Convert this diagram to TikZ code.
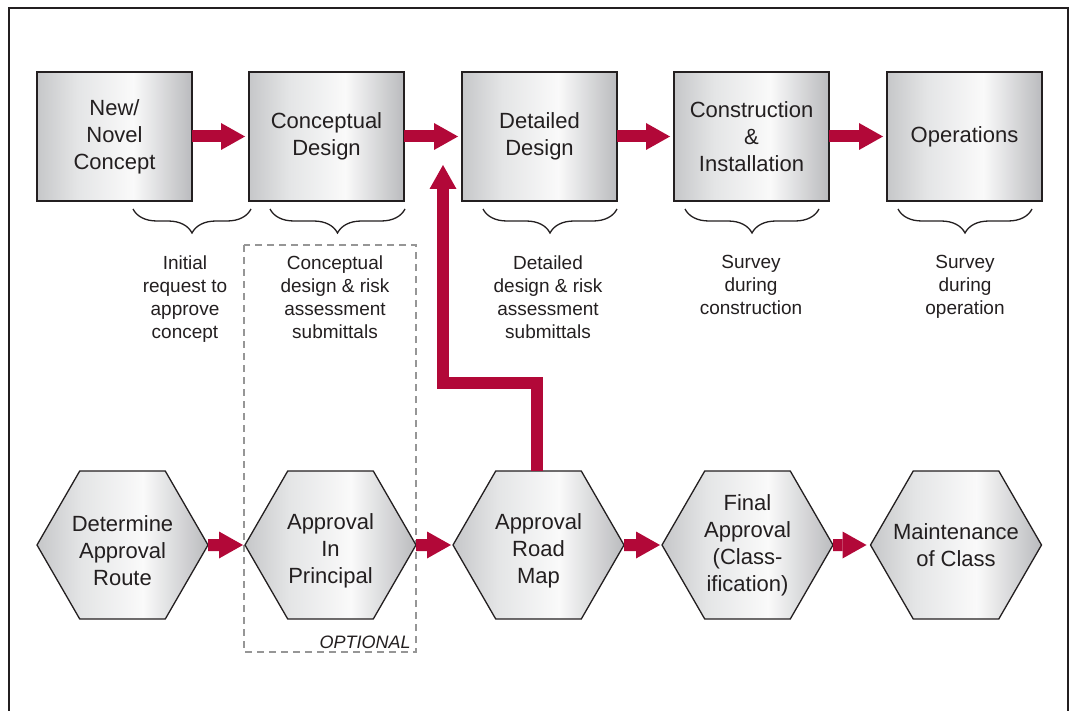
\documentclass[tikz,border=0pt]{standalone}
\usepackage{fontspec}
\setmainfont{Liberation Sans}
\usetikzlibrary{arrows.meta, shapes.geometric, decorations.pathreplacing}

\definecolor{crimson}{RGB}{178,8,56}
\definecolor{ink}{RGB}{35,31,32}
\definecolor{edgeL}{RGB}{198,199,201}
\definecolor{edgeR}{RGB}{186,187,190}
\definecolor{midL}{RGB}{228,229,230}
\definecolor{dashgray}{RGB}{150,150,150}
\pgfdeclarehorizontalshading{metal}{100bp}{color(0bp)=(edgeL); color(25bp)=(edgeL); color(38bp)=(midL); color(56bp)=(white!98!black); color(75bp)=(edgeR); color(100bp)=(edgeR)}
\newcommand{\dropline}{\rule{0pt}{28pt}}

\begin{document}
\begin{tikzpicture}[x=1pt, y=-1pt, >=Stealth, thick,
    stagebox/.style={draw=ink, line width=1.5pt, shading=metal, minimum width=155pt, minimum height=129pt,
        inner sep=0pt, outer sep=0pt, align=center, text=ink, font=\fontsize{22}{27}\selectfont},
    stephex/.style={regular polygon, regular polygon sides=6, minimum size=171pt, draw=ink, line width=1.3pt,
        shading=metal, inner sep=-20pt, outer sep=0pt, align=center, text=ink, font=\fontsize{22}{27}\selectfont},
    flow/.style={draw=crimson, line width=12pt, -{Triangle[length=24pt, width=27pt, line width=0pt]}},
    curly/.style={decorate, decoration={brace, mirror, amplitude=24pt}, draw=ink, line width=1.3pt},
    note/.style={anchor=north, align=center, text=ink, inner sep=0pt, font=\fontsize{19}{23}\selectfont}]

    \useasboundingbox (0,0) rectangle (1070,711);

    % 外框
    \draw[ink, line width=2pt] (9,711) -- (9,8) -- (1068,8) -- (1068,711);

    % 定义坐标
    \coordinate (MapIn) at (443,165); % 路线图进入点
    \coordinate (Bend) at (443,383);

    % 上排: 设计阶段
    \node[stagebox] (newcon) at (114.5,136.5) {New/\\Novel\\Concept};
    \node[stagebox] (concdes) at (326.5,136.5) {Conceptual\\Design};
    \node[stagebox] (detdes) at (539.5,136.5) {Detailed\\Design};
    \node[stagebox] (constr) at (751.5,136.5) {Construction\\\&\\Installation};
    \node[stagebox] (oper) at (964.5,136.5) {Operations};

    % 上排箭头
    \draw[flow, shorten >=4pt] (newcon) -- (concdes);
    \draw[flow, shorten >=4pt] (concdes) -- (detdes);
    \draw[flow, shorten >=4pt] (detdes) -- (constr);
    \draw[flow, shorten >=4pt] (constr) -- (oper);

    % 花括号
    \draw[curly] (133,209) -- (251,209);
    \draw[curly] (270,209) -- (405,209);
    \draw[curly] (483,209) -- (617,209);
    \draw[curly] (685,209) -- (819,209);
    \draw[curly] (898,209) -- (1032,209);

    % 说明文字
    \node[note] (nreq) at (185,255) {Initial\\request to\\approve\\concept};
    \node[note] (nconc) at (335,255) {Conceptual\\design \& risk\\assessment\\submittals};
    \node[note] (ndet) at (548,255) {Detailed\\design \& risk\\assessment\\submittals};
    \node[note] (nconst) at (751,255) {Survey\\during\\construction};
    \node[note] (nop) at (965,255) {Survey\\during\\operation};

    % 可选框
    \draw[dashgray, line width=1.3pt, dash pattern=on 7pt off 5pt] (244,245) rectangle (416,652);
    \node[anchor=base east, inner sep=0pt, text=ink, font=\fontsize{18}{22}\selectfont\itshape] (optlab) at (411,648) {OPTIONAL};

    % 下排: 审批流程
    \node[stephex] (route) at (122.5,545) {\dropline Determine\\Approval\\Route};
    \node[stephex] (aip) at (330.5,545) {\dropline Approval\\In\\Principal};
    \node[stephex] (roadmap) at (538.5,545) {\dropline Approval\\Road\\Map};
    \node[stephex] (finalapp) at (747.5,545) {Final\\Approval\\(Class-\\ification)};
    \node[stephex] (maint) at (956,545) {Maintenance\\of Class};

    % 下排箭头
    \draw[flow, shorten >=2pt] (route) -- (aip);
    \draw[flow, shorten >=2pt] (aip) -- (roadmap);
    \draw[flow, shorten >=2pt] (roadmap) -- (finalapp);
    \draw[flow, shorten >=4pt] (finalapp) -- (maint);

    % 路线图 -> 详细设计
    \draw[flow] ([xshift=-1.5pt]roadmap.north) |- (Bend) -- (MapIn);

\end{tikzpicture}
\end{document}
